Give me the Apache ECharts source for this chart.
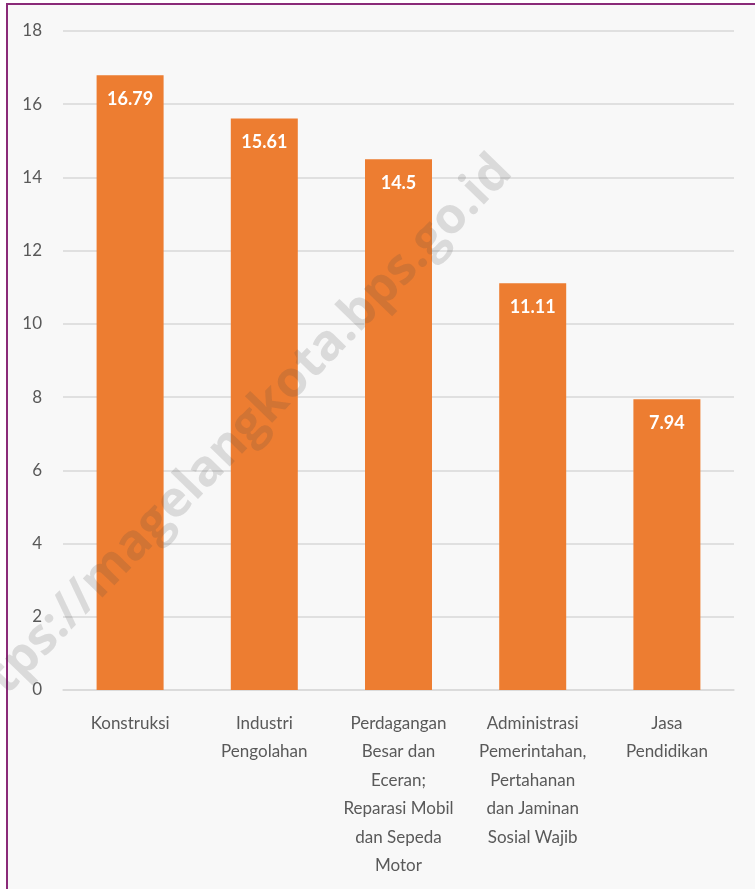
<!DOCTYPE html>
<html><head><meta charset="utf-8">
<script src="https://cdn.jsdelivr.net/npm/echarts@6/dist/echarts.min.js"></script>
<style>
html,body{margin:0;padding:0;background:#fff;}
#frame{position:absolute;left:6px;top:3px;width:749px;height:886px;border-left:2px solid #8a2a78;border-top:2px solid #8a2a78;box-sizing:border-box;background:#f8f8f8;}
#c{position:absolute;left:0;top:0;width:755px;height:889px;}
</style></head>
<body>
<div id="frame"></div>
<div id="c"></div>
<script>
const categories = ["Konstruksi","Industri\nPengolahan","Perdagangan\nBesar dan\nEceran;\nReparasi Mobil\ndan Sepeda\nMotor","Administrasi\nPemerintahan,\nPertahanan\ndan Jaminan\nSosial Wajib","Jasa\nPendidikan"];
const values = [16.79, 15.61, 14.5, 11.11, 7.94];
const yTicks = {min:0, max:18, interval:2};
const watermark = "tps://magelangkota.bps.go.id";

const chart = echarts.init(document.getElementById('c'), null, {renderer:'canvas'});
chart.setOption({
  backgroundColor:'transparent',
  animation:false,
  grid:{left:63, right:21, top:31, bottom:199},
  xAxis:{type:'category', data:categories,
    axisLine:{show:true, lineStyle:{color:'#d9d9d9', width:1.5}},
    axisTick:{show:false},
    axisLabel:{color:'#595959', fontFamily:'Lato', fontSize:17, lineHeight:28.5, margin:19, interval:0}},
  yAxis:{type:'value', min:yTicks.min, max:yTicks.max, interval:yTicks.interval,
    axisLine:{show:false}, axisTick:{show:false},
    splitLine:{lineStyle:{color:'#d9d9d9', width:1.5}},
    axisLabel:{color:'#595959', fontFamily:'Lato', fontSize:17, margin:21}},
  series:[{type:'bar', data:values, barWidth:67,
    itemStyle:{color:'#ED7D31'},
    label:{show:true, position:'insideTop', distance:15, color:'#fff', fontWeight:'bold', fontFamily:'Lato', fontSize:18}}],
  graphic:[{type:'text', x:250, y:425, rotation:0.8, silent:true, z:100, zlevel:1,
    style:{text:watermark, fill:'rgba(70,70,70,0.17)', font:'bold 50px "Open Sans"', textAlign:'center', textVerticalAlign:'middle'}}]
});
</script>
</body></html>
